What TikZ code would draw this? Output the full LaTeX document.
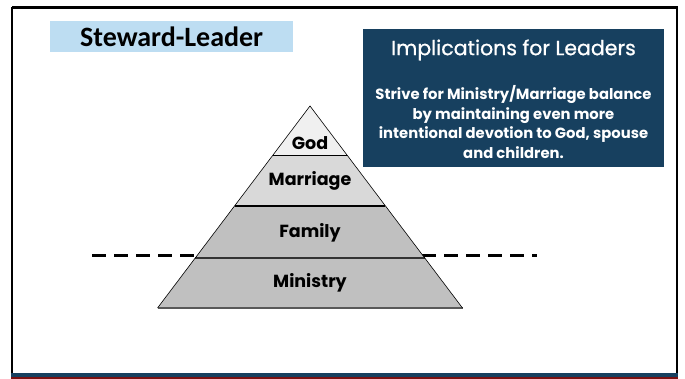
\documentclass[tikz,border=0pt]{standalone}
\usepackage{fontspec}
\usetikzlibrary{calc}
\newfontfamily\gothic{Poppins}
\newfontfamily\gothicmed[FakeBold=0.8]{Poppins}
\newfontfamily\calib{Carlito}
\definecolor{navy}{HTML}{17405F}
\definecolor{skyb}{HTML}{BDDDF2}
\definecolor{darkred}{HTML}{7A1212}
\definecolor{godfill}{HTML}{F0F0F0}
\definecolor{marfill}{HTML}{D9D9D9}
\definecolor{lowfill}{HTML}{C0C0C0}
\tikzset{
  layerlabel/.style={font=\gothic\bfseries\fontsize{17.5}{20}\selectfont, inner sep=0pt, anchor=center},
  sepline/.style={line width=1.4pt, draw=black!80},
}
\begin{document}
\begin{tikzpicture}[x=1pt,y=-1pt]
\useasboundingbox (0,0) rectangle (685,379);
% frame
\draw[line width=2.6pt, black] (12,7.3) -- (677,7.3) -- (677,375) (12,7.3) -- (12,375);
\fill[navy] (10.7,372.6) rectangle (678.3,377.3);
\fill[darkred] (10.7,377.3) rectangle (678.3,379);
% title box
\node[fill=skyb, minimum width=243pt, minimum height=31pt, inner sep=0pt, anchor=north west,
      font=\calib\bfseries\fontsize{28}{30}\selectfont] (title) at (50,21) {\raisebox{-1pt}{Steward-Leader}};
% implications box
\node[fill=navy, minimum width=301pt, minimum height=138pt, inner sep=0pt, anchor=north west] (impl) at (363,29) {};
\node[text=white, font=\gothicmed\fontsize{20.5}{24}\selectfont, inner sep=0pt] (implhead) at (513.5,50) {Implications for Leaders};
\node[text=white, font=\gothic\bfseries\fontsize{14.8}{19.8}\selectfont, align=center, inner sep=0pt] (impltext) at (513.5,122)
  {Strive for Ministry/Marriage balance\\by maintaining even more\\intentional devotion to God, spouse\\and children.};
% dashed line
\coordinate (dl) at (92,256);
\coordinate (dr) at (537,256);
\draw[line width=3pt, dash pattern=on 14pt off 8pt] (dl) -- (dr);
% pyramid
\coordinate (A) at (310,106);
\coordinate (BL) at (157.5,308);
\coordinate (BR) at (462.5,308);
\coordinate (L1) at ($(A)!0.2426!(BL)$);
\coordinate (R1) at ($(A)!0.2426!(BR)$);
\coordinate (L2) at ($(A)!0.495!(BL)$);
\coordinate (R2) at ($(A)!0.495!(BR)$);
\coordinate (L3) at ($(A)!0.7525!(BL)$);
\coordinate (R3) at ($(A)!0.7525!(BR)$);
\fill[godfill] (A) -- (R1) -- (L1) -- cycle;
\fill[marfill] (L1) -- (R1) -- (R2) -- (L2) -- cycle;
\fill[lowfill] (L2) -- (R2) -- (R3) -- (L3) -- cycle;
\fill[lowfill] (L3) -- (R3) -- (BR) -- (BL) -- cycle;
\draw[line width=0.8pt, black] (L1) -- (R1);
\draw[line width=1.4pt, black] (L2) -- (R2);
\draw[sepline] (L3) -- (R3);
\draw[line width=1.4pt, black!65] (BL) -- (BR);
\draw[line width=0.6pt, black] (BL) -- (A) -- (BR);
% labels
\node[layerlabel] (god) at (310,143) {God};
\node[layerlabel] (marriage) at (310,181) {Marriage};
\node[layerlabel] (family) at (310,233) {Family};
\node[layerlabel] (ministry) at (310,283) {Ministry};
\end{tikzpicture}
\end{document}
